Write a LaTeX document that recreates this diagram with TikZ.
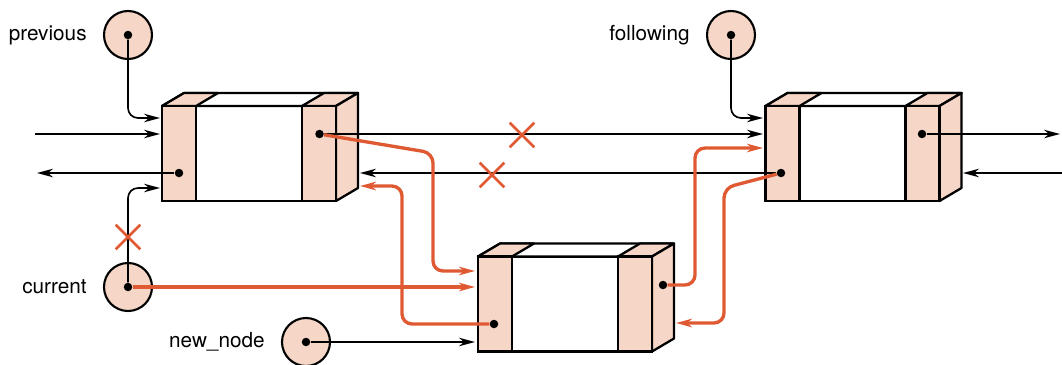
\documentclass[tikz,border=0pt]{standalone}
\usepackage{fontspec}
\setmainfont{TeX Gyre Heros}
\usetikzlibrary{arrows.meta,positioning,shapes.misc,calc}
\definecolor{Peach}{HTML}{F6D6C6}
\definecolor{Rust}{HTML}{DF5A33}
\tikzset{
  front/.style={draw, line width=1.3pt, fill=white, minimum width=3.48cm,
                minimum height=1.9cm, inner sep=0pt, outer sep=0pt},
  strip/.style={front, fill=Peach, minimum width=0.68cm},
  face/.style={draw, line width=1.3pt, line join=round},
  ptr/.style={circle, draw, line width=1.2pt, fill=Peach, minimum size=0.96cm, inner sep=0pt},
  dot/.style={circle, fill=black, minimum size=0.17cm, inner sep=0pt},
  lbl/.style={font=\fontsize{11.8}{14}\selectfont, inner sep=0pt},
  link/.style={-{Stealth[length=3.2mm,width=1.7mm,inset=1mm]}, line width=0.95pt,
               rounded corners=2mm},
  newlink/.style={link, draw=Rust, line width=1.9pt},
  cut/.style={cross out, draw=Rust, line width=1.5pt, minimum size=0.44cm, inner sep=0pt},
}
% one list cell: name, centre of the front face
\newcommand{\cellbox}[2]{%
  \node[front] (#1) at (#2) {};
  \draw[face, fill=white] (#1.north west) -- ++(22,-13) -- ++(174,0) -- (#1.north east) -- cycle;
  \draw[face, fill=Peach] (#1.north west) -- ++(22,-13) -- ++(34,0) -- ++(-22,13) -- cycle;
  \draw[face, fill=Peach] ($(#1.north east)+(-34,0)$) -- ++(22,-13) -- ++(34,0) -- ++(-22,13) -- cycle;
  \draw[face, fill=Peach] (#1.north east) -- ++(22,-13) -- ++(0,95) -- ++(-22,13) -- cycle;
  \node[strip, anchor=north west] (#1-l) at (#1.north west) {};
  \node[strip, anchor=north east] (#1-r) at (#1.north east) {};
}

\begin{document}
\begin{tikzpicture}[x=0.02cm, y=-0.02cm]
  \useasboundingbox (0,0) rectangle (1062,365);
  % cells
  \cellbox{A}{249,153.5}
  \cellbox{B}{565,304}
  \cellbox{C}{852.5,153.5}
  \node[dot] (A-ld) at (179,173) {};
  \node[dot] (A-rd) at (319.5,134) {};
  \node[dot] (B-ld) at (494,324) {};
  \node[dot] (B-rd) at (663,285) {};
  \node[dot] (C-ld) at (781,173) {};
  \node[dot] (C-rd) at (922,134) {};
  % pointers
  \node[ptr] (prev) at (128,35) {};
  \node[dot] (prev-d) at (prev) {};
  \node[lbl, left=3.2mm of prev] (prev-t) {previous};
  \node[ptr] (foll) at (731,35) {};
  \node[dot] (foll-d) at (foll) {};
  \node[lbl, left=3.2mm of foll] (foll-t) {following};
  \node[ptr] (cur) at (128,287) {};
  \node[dot] (cur-d) at (cur) {};
  \node[lbl, left=3.2mm of cur] (cur-t) {current};
  \node[ptr] (new) at (306,342) {};
  \node[dot] (new-d) at (new) {};
  \node[lbl, left=3.2mm of new] (new-t) {new\_node};
  % arrow ends
  \coordinate (L-in) at (35,134);
  \coordinate (L-out) at (37,173);
  \coordinate (R-out) at (1060,134);
  \coordinate (R-in) at (1062,173);
  \coordinate (A-p) at (160,118);
  \coordinate (A-i) at (160,134);
  \coordinate (A-c) at (160,188);
  \coordinate (A-s) at (360,173);
  \coordinate (A-r) at (360,186);
  \coordinate (B-t) at (475,271);
  \coordinate (B-c) at (475,287);
  \coordinate (B-n) at (475,342);
  \coordinate (B-s) at (676,323);
  \coordinate (C-f) at (763,118);
  \coordinate (C-i) at (763,134);
  \coordinate (C-r) at (763,148);
  \coordinate (C-s) at (963,173);
  % old links
  \draw[link] (prev-d) |- (A-p);
  \draw[link] (cur-d) |- (A-c);
  \draw[link] (foll-d) |- (C-f);
  \draw[link] (L-in) -- (A-i);
  \draw[link] (A-ld) -- (L-out);
  \draw[link] (A-rd) -- (C-i);
  \draw[link] (C-ld) -- (A-s);
  \draw[link] (C-rd) -- (R-out);
  \draw[link] (R-in) -- (C-s);
  \draw[link] (new-d) -- (B-n);
  % new links
  \draw[newlink] (cur-d) -- (B-c);
  \draw[newlink] (A-rd) -- (433,153) |- (B-t);
  \draw[newlink] (B-ld) -| (402,186) -- (A-r);
  \draw[newlink] (B-rd) -| (695,148) -- (C-r);
  \draw[newlink] (C-ld) -- (724,188) |- (B-s);
  % broken links
  \node[cut] (x-cur) at (128,237) {};
  \node[cut] (x-next) at (522,135) {};
  \node[cut] (x-prev) at (492,175) {};
\end{tikzpicture}
\end{document}
